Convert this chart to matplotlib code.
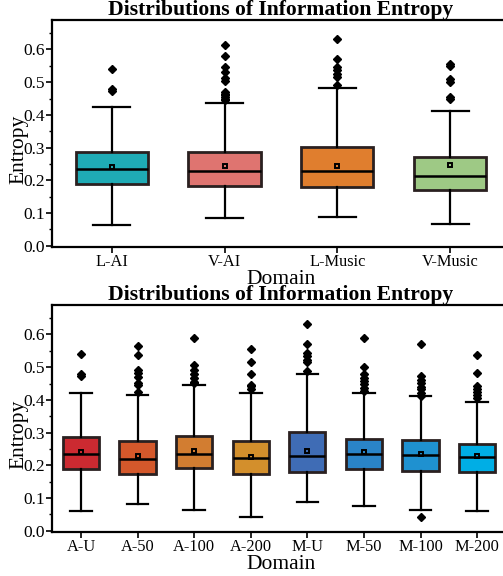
import matplotlib
matplotlib.use("Agg")
import matplotlib.pyplot as plt
from matplotlib.ticker import MultipleLocator

plt.rcParams['font.family'] = ['Liberation Serif', 'DejaVu Serif']

# ---- Top panel data ----
top_labels = ["L-AI", "V-AI", "L-Music", "V-Music"]
top_colors = ["#1fabb5", "#df7470", "#e07e2e", "#9ec985"]
top_q1 = [0.189, 0.184, 0.181, 0.169]
top_med = [0.235, 0.229, 0.229, 0.214]
top_q3 = [0.286, 0.288, 0.303, 0.272]
top_mean = [0.241, 0.245, 0.245, 0.248]
top_lo = [0.062, 0.086, 0.088, 0.066]
top_hi = [0.423, 0.435, 0.481, 0.411]
top_fliers = [
    [0.540, 0.478, 0.474],
    [0.613, 0.579, 0.545, 0.530, 0.512, 0.505, 0.470, 0.465, 0.460, 0.455, 0.450, 0.445],
    [0.633, 0.570, 0.545, 0.538, 0.525, 0.515, 0.490],
    [0.555, 0.550, 0.510, 0.500, 0.455, 0.450],
]

# ---- Bottom panel data ----
bot_labels = ["A-U", "A-50", "A-100", "A-200", "M-U", "M-50", "M-100", "M-200"]
bot_colors = ["#cc2a31", "#d4582b", "#d27d31", "#d38f2c", "#3f6cb5", "#2a84c8", "#1f91d0", "#00aee5"]
bot_q1 = [0.188, 0.174, 0.191, 0.173, 0.179, 0.188, 0.183, 0.179]
bot_med = [0.234, 0.220, 0.233, 0.223, 0.227, 0.234, 0.231, 0.226]
bot_q3 = [0.285, 0.273, 0.291, 0.275, 0.302, 0.281, 0.276, 0.266]
bot_mean = [0.240, 0.227, 0.243, 0.226, 0.245, 0.241, 0.234, 0.228]
bot_lo = [0.061, 0.081, 0.064, 0.043, 0.087, 0.076, 0.064, 0.061]
bot_hi = [0.422, 0.414, 0.444, 0.422, 0.479, 0.421, 0.411, 0.395]
bot_fliers = [
    [0.539, 0.478, 0.474],
    [0.565, 0.537, 0.491, 0.481, 0.471, 0.451, 0.446, 0.423],
    [0.590, 0.507, 0.491, 0.478, 0.466, 0.456, 0.451],
    [0.554, 0.515, 0.478, 0.446, 0.441, 0.433],
    [0.633, 0.570, 0.542, 0.535, 0.522, 0.515, 0.488],
    [0.588, 0.500, 0.478, 0.468, 0.458, 0.448, 0.437, 0.427],
    [0.570, 0.473, 0.461, 0.451, 0.440, 0.432, 0.420, 0.413, 0.042],
    [0.536, 0.481, 0.441, 0.433, 0.425, 0.415, 0.407],
]

fig = plt.figure(figsize=(5.03, 5.76), dpi=100)

def panel(rect, labels, colors, q1, med, q3, mean, lo, hi, fliers, capw, xlim):
    ax = fig.add_axes(rect)
    stats = []
    for i in range(len(labels)):
        stats.append(dict(label=labels[i], q1=q1[i], med=med[i], q3=q3[i],
                          mean=mean[i], whislo=lo[i], whishi=hi[i], fliers=fliers[i]))
    pos = list(range(len(labels)))
    bp = ax.bxp(stats, positions=pos, widths=0.64, patch_artist=True, showmeans=True,
                capwidths=capw,
                boxprops=dict(edgecolor="#2a2020", linewidth=2.0),
                medianprops=dict(color="black", linewidth=1.8),
                whiskerprops=dict(color="black", linewidth=1.6),
                capprops=dict(color="black", linewidth=1.6),
                flierprops=dict(marker="D", markerfacecolor="black", markeredgecolor="black",
                                markersize=4),
                meanprops=dict(marker="s", markerfacecolor="none", markeredgecolor="black",
                               markeredgewidth=1.4, markersize=3.2))
    for patch, c in zip(bp["boxes"], colors):
        patch.set_facecolor(c)
    ax.set_xlim(*xlim)
    ax.set_ylim(-0.003, 0.69)
    ax.yaxis.set_major_locator(MultipleLocator(0.1))
    ax.yaxis.set_minor_locator(MultipleLocator(0.05))
    ax.set_yticklabels([f"{v:.1f}" for v in ax.get_yticks()])
    ax.set_xticks(pos)
    ax.set_xticklabels(labels)
    for s in ax.spines.values():
        s.set_linewidth(1.6)
    ax.tick_params(axis="y", which="major", direction="out", length=4, width=1.2,
                   labelsize=12.5, pad=1)
    ax.tick_params(axis="y", which="minor", direction="out", length=2.5, width=1.0)
    ax.tick_params(axis="x", which="major", direction="out", length=4, width=1.2,
                   labelsize=11.8, pad=1)
    ax.set_title("Distributions of Information Entropy", fontsize=15.6, fontweight="bold", pad=1)
    ax.set_xlabel("Domain", fontsize=15.5, labelpad=0)
    ax.set_ylabel("Entropy", fontsize=15.5)
    ax.yaxis.set_label_coords(-0.052, 0.43)
    return ax

panel([52/503, 1 - 246.7/576, 0.9105, 226.7/576], top_labels, top_colors,
      top_q1, top_med, top_q3, top_mean, top_lo, top_hi, top_fliers, 0.33, (-0.53, 3.53))
panel([52/503, 1 - 531.7/576, 0.9105, 226.7/576], bot_labels, bot_colors,
      bot_q1, bot_med, bot_q3, bot_mean, bot_lo, bot_hi, bot_fliers, 0.38, (-0.512, 7.58))

fig.savefig("out.png", dpi=100)
